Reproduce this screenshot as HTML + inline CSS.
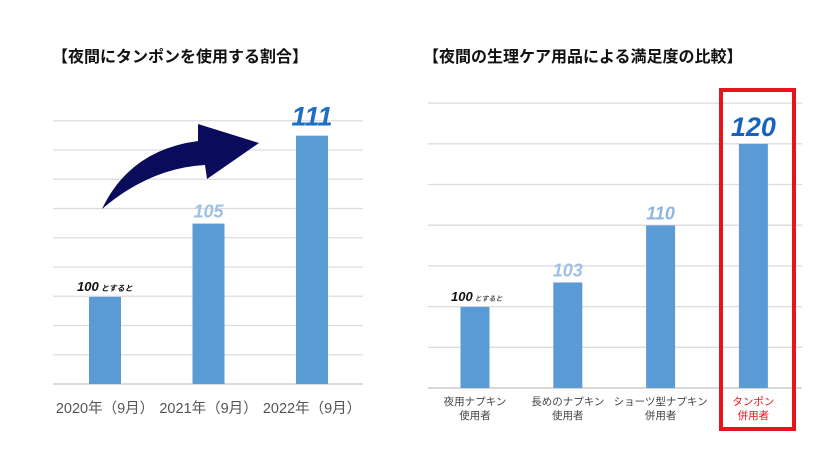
<!DOCTYPE html>
<html><head><meta charset="utf-8"><style>
body{margin:0;background:#fff;}
svg text{font-family:"Liberation Sans","Noto Sans CJK JP",sans-serif;}
</style></head><body>
<svg width="840" height="462" viewBox="0 0 840 462" xmlns="http://www.w3.org/2000/svg">
<rect width="840" height="462" fill="#fff"/>
<text x="52" y="62" font-size="16" font-weight="bold" fill="#111">【夜間にタンポンを使用する割合】</text>
<text x="423" y="62" font-size="16" font-weight="bold" fill="#111">【夜間の生理ケア用品による満足度の比較】</text>
<g id="left"></g>
<g id="right"></g>
<path d="M102,209 Q130,150 198,141 L198,124 L259,143 L207,179 L205,165 Q150,168 102,209 Z" fill="#0b0b5c"/>
<rect x="721" y="90" width="73" height="339" fill="none" stroke="#e8141b" stroke-width="4"/>
</svg>
<script>
const NS="http://www.w3.org/2000/svg";
const leftCats=["2020年（9月）","2021年（9月）","2022年（9月）"];
const leftVals=[100,105,111];
const leftLabels=["100","105","111"];
const rightCats1=["夜用ナプキン","長めのナプキン","ショーツ型ナプキン","タンポン"];
const rightCats2=["使用者","使用者","併用者","併用者"];
const rightVals=[100,103,110,120];
const rightLabels=["100","103","110","120"];
function mk(t,a,p){const e=document.createElementNS(NS,t);for(const k in a)e.setAttribute(k,a[k]);p.appendChild(e);return e;}
// left
const L=document.getElementById('left');
const ly=v=>384-(v-94.05)*14.65;
for(let i=0;i<10;i++){const y=384-i*29.25;
const g=mk('line',{x1:53,x2:363,y1:y,y2:y,stroke:i==0?'#c8c8c8':'#dcdcdc','stroke-width':1.3},L);

}
const lx=i=>105+i*103.5;
const lColors=["#111","#9dc1e6","#1c6fc2"],lSize=[13,18,27];
leftVals.forEach((v,i)=>{
const r=mk('rect',{x:lx(i)-16,y:ly(v),width:32,height:384-ly(v),fill:'#5b9bd5'},L);


const t=mk('text',{x:i==0?lx(i)-28:lx(i),y:ly(v)-(i==2?10:6),'font-size':lSize[i],'font-weight':'bold','font-style':'italic',fill:lColors[i],'text-anchor':i==0?'start':'middle'},L);
t.textContent=leftLabels[i];


if(i==0){const s=mk('tspan',{'font-size':8},t);s.textContent=' とすると';}
const c=mk('text',{x:lx(i),y:413,'font-size':14.5,fill:'#555','text-anchor':'middle'},L);
c.textContent=leftCats[i];


});
// right
const R=document.getElementById('right');
const ry=v=>388-(v-90.05)*8.15;
for(let i=0;i<8;i++){const y=388-i*40.7;
const g=mk('line',{x1:428,x2:802,y1:y,y2:y,stroke:i==0?'#c0c0c0':'#dcdcdc','stroke-width':1.3},R);

}
const rx=i=>475+i*92.8;
const rColors=["#111","#9dc1e6","#8db7e2","#1565c0"],rSize=[13,18,18,27];
rightVals.forEach((v,i)=>{
const r=mk('rect',{x:rx(i)-14.5,y:ry(v),width:29,height:388-ry(v),fill:'#5b9bd5'},R);


const t=mk('text',{x:i==0?rx(i)-24:rx(i),y:ry(v)-(i==3?8:6),'font-size':rSize[i],'font-weight':'bold','font-style':'italic',fill:rColors[i],'text-anchor':i==0?'start':'middle'},R);
t.textContent=rightLabels[i];


if(i==0){const s=mk('tspan',{'font-size':7,fill:'#555'},t);s.textContent=' とすると';}
const col=i==3?'#e8141b':'#444';
const c1=mk('text',{x:rx(i),y:405,'font-size':10.5,fill:col,'text-anchor':'middle'},R);
c1.textContent=rightCats1[i];


const c2=mk('text',{x:rx(i),y:419,'font-size':10.5,fill:col,'text-anchor':'middle'},R);
c2.textContent=rightCats2[i];


});
</script>
</body></html>
